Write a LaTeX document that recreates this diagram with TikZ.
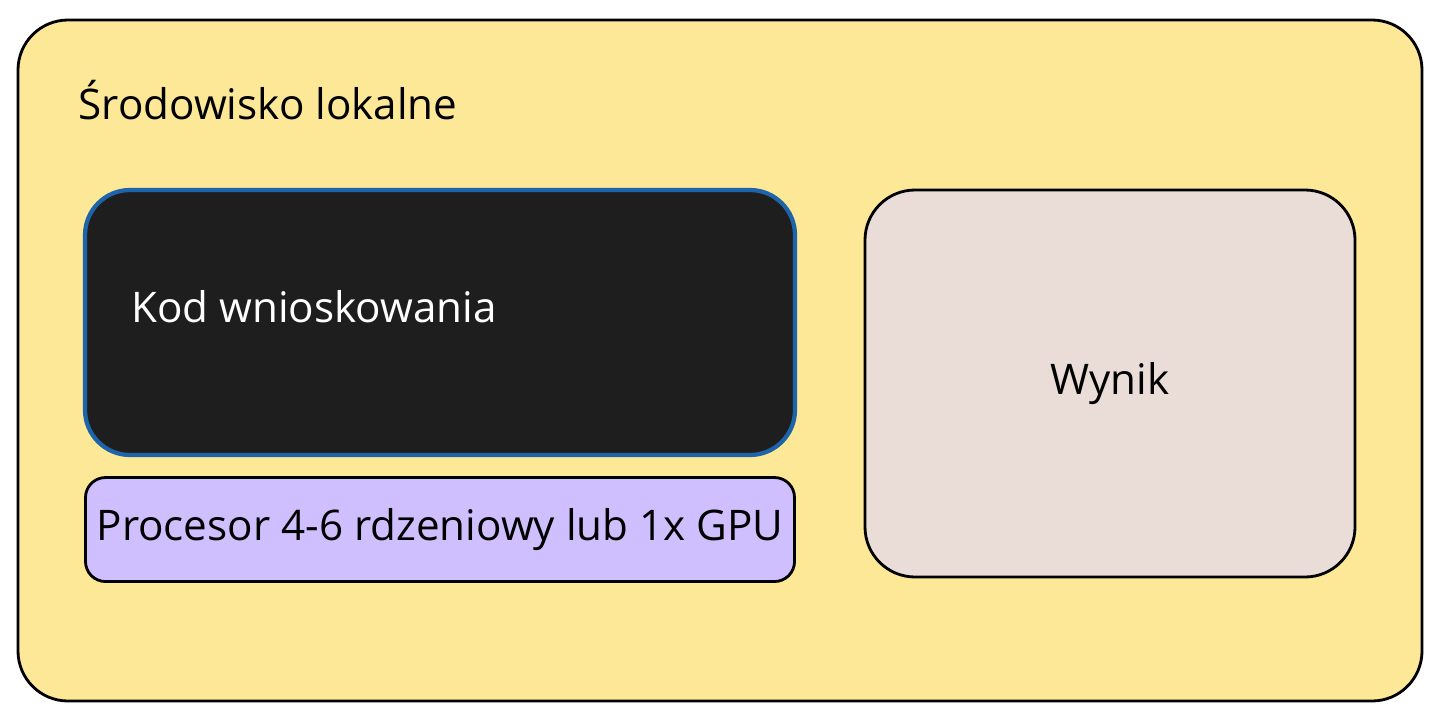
\documentclass[tikz,border=0pt]{standalone}
\usepackage{fontspec}
\setmainfont{Open Sans}
\usepackage{xcolor}
\usetikzlibrary{positioning}
\definecolor{envyellow}{HTML}{FCE896}
\definecolor{kodblack}{HTML}{1E1E1E}
\definecolor{kodblue}{HTML}{1E64AA}
\definecolor{cpuviolet}{HTML}{D0BFFF}
\definecolor{wynikbrown}{HTML}{EADDD7}

\tikzset{
	box/.style={rectangle, draw, line width=1.6pt, inner sep=0pt},
	label/.style={font=\fontsize{24}{28}\selectfont}
}

\begin{document}
\begin{tikzpicture}
	\useasboundingbox (0,0) rectangle (28.76,-14.4);
	\node[box, rounded corners=1cm, fill=envyellow, minimum width=28.08cm, minimum height=13.62cm] (srodowisko) at (14.4,-7.21) {};
	\node[label, anchor=west] (tytul) at (1.45,-2.0) {Środowisko lokalne};
	
	\node[box, line width=2.4pt, rounded corners=0.9cm, fill=kodblack, draw=kodblue, minimum width=14.2cm, minimum height=5.3cm] (kod) at (8.8,-6.45) {};
	\node[label, anchor=west, text=white] (kodtekst) at (2.5,-6.14) {Kod wnioskowania};
	
	\node[box, rounded corners=0.4cm, fill=cpuviolet, minimum width=14.18cm, minimum height=2.08cm, below=0.38cm of kod] (procesor) {};
	\node[label] at (procesor) {Procesor 4-6 rdzeniowy lub 1x GPU};
	
	\node[box, rounded corners=1cm, fill=wynikbrown, minimum width=9.8cm, minimum height=7.74cm, label] (wynik) at (22.2,-7.67) {Wynik};
\end{tikzpicture}
\end{document}
